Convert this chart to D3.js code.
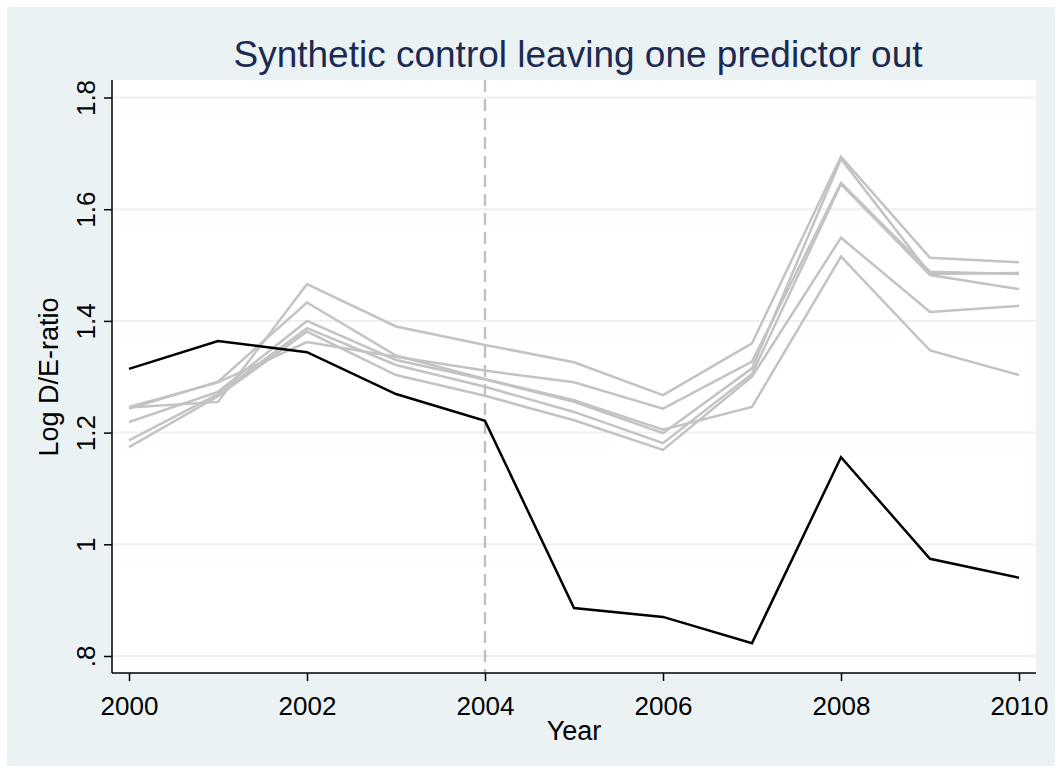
<!DOCTYPE html>
<html><head><meta charset="utf-8">
<script src="https://cdn.jsdelivr.net/npm/d3@7"></script>
<style>html,body{margin:0;padding:0;background:#fff;}svg{display:block;font-family:"Liberation Sans",Arial,sans-serif;}</style>
</head><body>
<script>
const years = [2000,2001,2002,2003,2004,2005,2006,2007,2008,2009,2010];
const treated = [1.314,1.364,1.344,1.269,1.221,0.886,0.870,0.823,1.156,0.974,0.940];
const donor1 = [1.245,1.255,1.466,1.390,1.357,1.326,1.267,1.360,1.694,1.513,1.505];
const donor2 = [1.243,1.291,1.433,1.338,1.296,1.258,1.205,1.246,1.515,1.347,1.303];
const donor3 = [1.219,1.273,1.400,1.330,1.295,1.255,1.199,1.315,1.690,1.484,1.486];
const donor4 = [1.186,1.269,1.387,1.321,1.282,1.237,1.181,1.305,1.645,1.482,1.457];
const donor5 = [1.174,1.265,1.381,1.303,1.266,1.222,1.169,1.300,1.549,1.416,1.427];
const donor6 = [1.246,1.290,1.362,1.336,1.311,1.290,1.243,1.327,1.647,1.488,1.484];
const donors = [donor1,donor2,donor3,donor4,donor5,donor6];
const yTicks = [0.8,1.0,1.2,1.4,1.6,1.8];
const yTickLabels = [".8","1","1.2","1.4","1.6","1.8"];
const xTicks = [2000,2002,2004,2006,2008,2010];
const treatYear = 2004;
const titleText = "Synthetic control leaving one predictor out";
const xLabel = "Year";
const yLabel = "Log D/E-ratio";

const W = 1058, H = 773;
const plot = {left:112, right:1036, top:80, bottom:673};
const svg = d3.select("body").append("svg").attr("width",W).attr("height",H);
svg.append("rect").attr("x",7).attr("y",7).attr("width",1048).attr("height",759).attr("fill","#eaf2f3");
svg.append("rect").attr("x",plot.left).attr("y",plot.top).attr("width",plot.right-plot.left).attr("height",plot.bottom-plot.top).attr("fill","#fff");

const x = d3.scaleLinear().domain([2000,2010]).range([129,1019]);
const y = d3.scaleLinear().domain([0.8,1.8]).range([656,97.5]);

// gridlines
svg.append("g").selectAll("line").data(yTicks).join("line")
  .attr("x1",plot.left).attr("x2",plot.right)
  .attr("y1",d=>y(d)).attr("y2",d=>y(d))
  .attr("stroke","#eaf2f3").attr("stroke-width",2);

// vertical dashed line
svg.append("line").attr("x1",x(treatYear)).attr("x2",x(treatYear))
  .attr("y1",plot.top).attr("y2",plot.bottom)
  .attr("stroke","#c0c0c0").attr("stroke-width",2.4).attr("stroke-dasharray","12,7");

const line = d3.line().x((d,i)=>x(years[i])).y(d=>y(d));
svg.append("g").selectAll("path").data(donors).join("path")
  .attr("d",line).attr("fill","none").attr("stroke","#c3c3c3").attr("stroke-width",2.5).attr("stroke-linejoin","miter");
svg.append("path").datum(treated).attr("d",line).attr("fill","none").attr("stroke","#000").attr("stroke-width",2.5);

// axes
const yAxis = d3.axisLeft(y).tickValues(yTicks).tickSize(8).tickFormat((d,i)=>yTickLabels[i]);
const gy = svg.append("g").attr("transform",`translate(${plot.left},0)`).call(yAxis);
gy.select(".domain").attr("d",`M0,${plot.top}V${plot.bottom}`).attr("stroke","#000").attr("stroke-width",1.5);
gy.selectAll(".tick line").attr("stroke","#000").attr("stroke-width",1.5);
gy.selectAll(".tick text").attr("font-size",26).attr("fill","#000")
  .attr("transform",d=>`translate(-17,0) rotate(-90)`).attr("x",0).attr("dy",0).attr("text-anchor","middle").attr("dominant-baseline","auto");

const xAxis = d3.axisBottom(x).tickValues(xTicks).tickSize(8).tickFormat(d3.format("d"));
const gx = svg.append("g").attr("transform",`translate(0,${plot.bottom})`).call(xAxis);
gx.select(".domain").attr("d",`M${plot.left},0H${plot.right}`).attr("stroke","#000").attr("stroke-width",1.5);
gx.selectAll(".tick line").attr("stroke","#000").attr("stroke-width",1.5);
gx.selectAll(".tick text").attr("font-size",26).attr("fill","#000").attr("y",42).attr("dy",0);

svg.append("text").attr("x",574).attr("y",740).attr("text-anchor","middle").attr("font-size",27).attr("fill","#000").text(xLabel);
svg.append("text").attr("transform",`translate(58,377) rotate(-90)`).attr("text-anchor","middle").attr("font-size",27).attr("fill","#000").text(yLabel);
svg.append("text").attr("x",578).attr("y",67).attr("text-anchor","middle").attr("font-size",37).attr("fill","#1c2a52").text(titleText);
</script>
</body></html>
